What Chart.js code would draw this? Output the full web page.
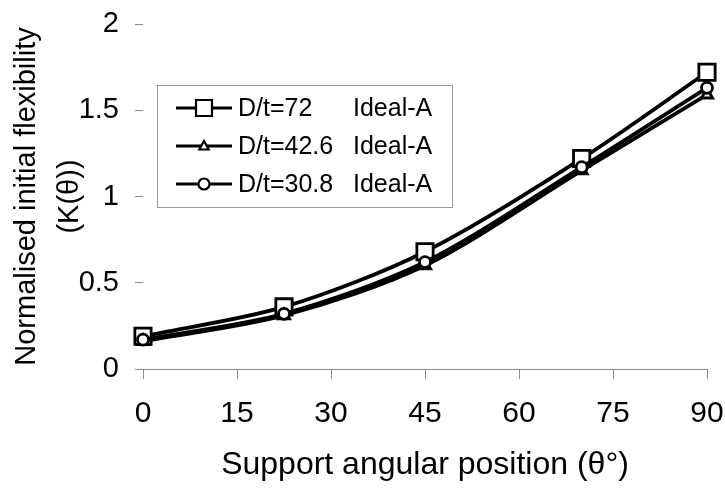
<!DOCTYPE html>
<html>
<head>
<meta charset="utf-8">
<script src="https://cdn.jsdelivr.net/npm/chart.js@4.4.1/dist/chart.umd.min.js"></script>
<style>
  html, body { margin: 0; padding: 0; background: #fff; }
  #wrap { width: 725px; height: 500px; position: relative; }
</style>
</head>
<body>
<div id="wrap"><canvas id="c" width="725" height="500"></canvas></div>
<script>
// ---- data ----
const angles = [0, 22.5, 45, 70, 90];
const kDt72 = [0.19, 0.36, 0.68, 1.22, 1.72];
const kDt42_6 = [0.16, 0.31, 0.60, 1.15, 1.59];
const kDt30_8 = [0.17, 0.32, 0.62, 1.17, 1.63];
const seriesNames = ["D/t=72", "D/t=42.6", "D/t=30.8"];
const seriesSuffix = "Ideal-A";
const xTicks = [0, 15, 30, 45, 60, 75, 90];
const yTicks = [0, 0.5, 1, 1.5, 2];
const yTickLabels = ["0", "0.5", "1", "1.5", "2"];
const xTitle = "Support angular position (\u03B8\u00B0)";
const yTitle = ["Normalised initial flexibility", "(K(\u03B8))"];

const FONT = "'Liberation Sans', Arial, sans-serif";
const pts = (ys) => angles.map((a, i) => ({ x: a, y: ys[i] }));

const styles = [
  { pointStyle: 'rect', radius: 11.5, lr: 8 },
  { pointStyle: 'triangle', radius: 6.5, lr: 5 },
  { pointStyle: 'circle', radius: 5.5, lr: 5.5 }
];
const seriesData = [kDt72, kDt42_6, kDt30_8];

const datasets = seriesData.map((ys, i) => ({
  label: seriesNames[i] + " " + seriesSuffix,
  data: pts(ys),
  borderColor: '#000',
  borderWidth: 3.8,
  backgroundColor: '#fff',
  pointStyle: styles[i].pointStyle,
  pointRadius: styles[i].radius,
  pointBorderWidth: 2.8,
  pointBorderColor: '#000',
  pointBackgroundColor: '#fff',
  tension: 0.3,
  fill: false,
  order: 2 - i,
  clip: false
}));

const legendPlugin = {
  id: 'boxLegend',
  afterDraw(chart) {
    const ctx = chart.ctx;
    const bx = 157, by = 85, bw = 295, bh = 122;
    ctx.save();
    ctx.strokeStyle = '#9a9a9a';
    ctx.lineWidth = 1;
    ctx.strokeRect(bx + 0.5, by + 0.5, bw, bh);
    const rows = [108, 146, 184];
    ctx.font = "25px " + FONT;
    ctx.textBaseline = 'middle';
    ctx.fillStyle = '#000';
    rows.forEach((ry, i) => {
      ctx.beginPath();
      ctx.strokeStyle = '#000';
      ctx.lineWidth = 3;
      ctx.moveTo(176, ry); ctx.lineTo(232, ry);
      ctx.stroke();
      const cx = 204, r = styles[i].lr;
      ctx.beginPath();
      if (styles[i].pointStyle === 'rect') {
        ctx.rect(cx - r, ry - r, 2 * r, 2 * r);
      } else if (styles[i].pointStyle === 'triangle') {
        ctx.moveTo(cx, ry - r);
        ctx.lineTo(cx + r * 0.95, ry + r * 0.7);
        ctx.lineTo(cx - r * 0.95, ry + r * 0.7);
        ctx.closePath();
      } else {
        ctx.arc(cx, ry, r, 0, Math.PI * 2);
      }
      ctx.fillStyle = '#fff';
      ctx.fill();
      ctx.lineWidth = 2.2;
      ctx.stroke();
      ctx.fillStyle = '#000';
      ctx.textAlign = 'left';
      ctx.fillText(seriesNames[i], 238, ry + 1);
      ctx.fillText(seriesSuffix, 353, ry + 1);
    });
    ctx.restore();
  }
};

new Chart(document.getElementById('c'), {
  type: 'line',
  data: { datasets },
  plugins: [legendPlugin],
  options: {
    responsive: false,
    animation: false,
    devicePixelRatio: 1,
    layout: { padding: { left: 0, right: 18, top: 24, bottom: 0 } },
    plugins: { legend: { display: false }, tooltip: { enabled: false } },
    scales: {
      x: {
        type: 'linear',
        min: 0, max: 90,
        afterBuildTicks: (s) => { s.ticks = xTicks.map(v => ({ value: v })); },
        afterFit: (s) => { s.height = 131; s.paddingLeft = 0; s.paddingRight = 0; },
        border: { display: true, color: '#8a8a8a', width: 1 },
        grid: { display: true, drawOnChartArea: false, drawTicks: true, tickLength: 10, color: '#8a8a8a', lineWidth: 1 },
        ticks: { color: '#000', font: { family: FONT, size: 30 }, padding: 17, maxRotation: 0 },
        title: { display: true, text: xTitle, color: '#000', font: { family: FONT, size: 32 }, padding: { top: 0, bottom: 16 } }
      },
      y: {
        type: 'linear',
        min: 0, max: 2,
        afterBuildTicks: (s) => { s.ticks = yTicks.map(v => ({ value: v })); },
        afterFit: (s) => { s.width = 143; s.paddingTop = 0; s.paddingBottom = 0; },
        border: { display: false },
        grid: { display: true, drawOnChartArea: false, drawTicks: true, tickLength: 8, color: '#8a8a8a', lineWidth: 1 },
        ticks: {
          color: '#000', font: { family: FONT, size: 29 }, padding: 16,
          callback: (v) => { const k = yTicks.indexOf(v); return k >= 0 ? yTickLabels[k] : ''; }
        },
        title: { display: true, text: yTitle, color: '#000', font: { family: FONT, size: 29, lineHeight: 1.48 }, padding: { top: 6, bottom: 0 } }
      }
    }
  }
});
</script>
</body>
</html>
